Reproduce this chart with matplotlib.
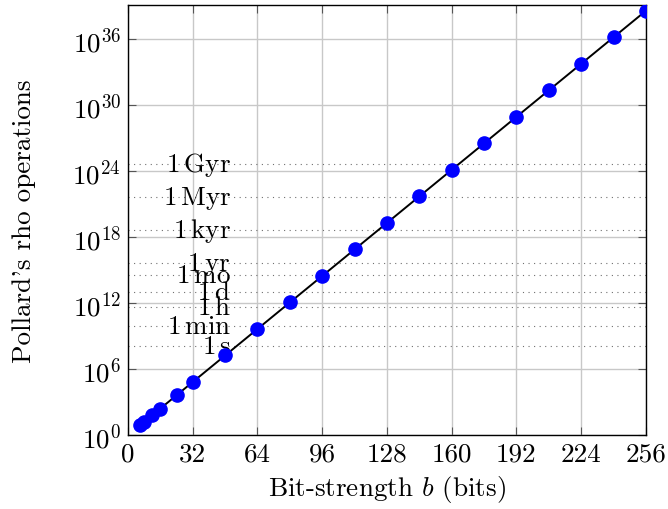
import matplotlib
matplotlib.use("Agg")
import matplotlib.pyplot as plt
import matplotlib.ticker as ticker

# --- DATA ---
bits = [6, 8, 12, 16, 24, 32, 48, 64, 80, 96, 112, 128, 144, 160, 176,
        192, 208, 224, 240, 256]
ops = [8, 16, 64, 256, 4.1e3, 6.55e4, 1.68e7, 4.29e9, 1.1e12, 2.81e14,
       7.21e16, 1.84e19, 4.72e21, 1.21e24, 3.09e26, 7.92e28, 2.03e31,
       5.19e33, 1.33e36, 3.40e38]

time_labels = ["1 s", "1 min", "1 h", "1 d", "1 mo", "1 yr", "1 kyr", "1 Myr", "1 Gyr"]
time_ops = [1.2e8, 7.2e9, 4.3e11, 1.04e13, 3.1e14, 3.79e15, 3.79e18, 3.79e21, 3.79e24]

xticks = [0, 32, 64, 96, 128, 160, 192, 224, 256]
yexps = [0, 6, 12, 18, 24, 30, 36]

# --- STYLE ---
plt.rcParams["font.family"] = ["cmr10", "DejaVu Serif"]
plt.rcParams["mathtext.fontset"] = "cm"
plt.rcParams["axes.formatter.use_mathtext"] = True
FS = 19.5

fig = plt.figure(figsize=(6.68, 5.10), dpi=100)
ax = fig.add_axes([0.1916, 0.145, 0.7754, 0.843])

# dotted time levels
for lab, v in zip(time_labels, time_ops):
    ax.axhline(v, color="#707070", lw=0.8, ls=(0, (1, 4)), zorder=1)
    num, unit = lab.split(" ")
    ax.text(50.9, v, r"$%s\,\mathrm{%s}$" % (num, unit), ha="right", va="center",
            fontsize=FS, zorder=2)

ax.plot(bits, ops, color="black", lw=1.4, marker="o", ms=9.5,
        mfc="blue", mec="blue", zorder=3)

ax.set_yscale("log")
ax.set_xlim(0, 256)
ax.set_ylim(1, 1.1e39)

ax.set_xticks(xticks)
ax.set_xticklabels([str(t) for t in xticks])
ax.set_yticks([10.0 ** e for e in yexps])
ax.set_yticklabels([r"$10^{%d}$" % e for e in yexps])
ax.yaxis.set_minor_locator(ticker.NullLocator())

ax.tick_params(direction="in", length=6, width=0.8, color="#555555",
               top=True, right=True, labelsize=FS, pad=5)
ax.grid(True, color="#c8c8c8", lw=1.0)
ax.set_axisbelow(True)
for s in ax.spines.values():
    s.set_linewidth(1.0)

ax.set_xlabel(r"Bit-strength $b$ (bits)", fontsize=FS, labelpad=5)
ax.set_ylabel("Pollard's rho operations", fontsize=FS, labelpad=26)

fig.savefig("out.png", dpi=100)
